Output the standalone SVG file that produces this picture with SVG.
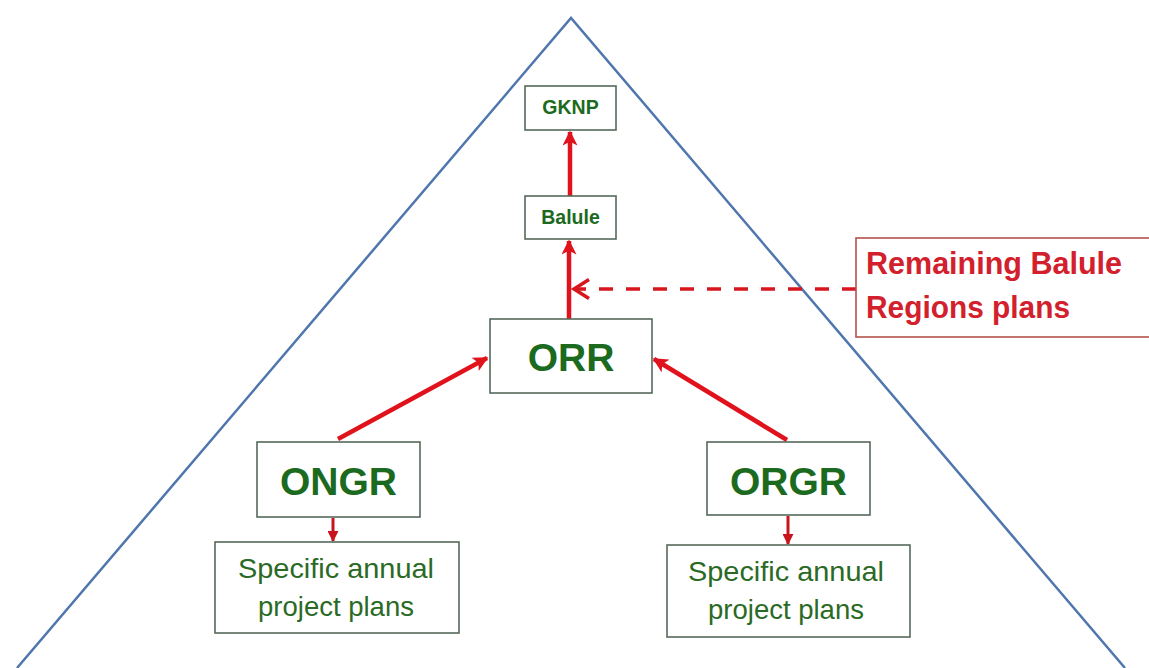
<svg xmlns="http://www.w3.org/2000/svg" width="1149" height="668" viewBox="0 0 1149 668">
<style>
.box{fill:#fff;stroke:#56695a;stroke-width:1.6}
.rbox{fill:#fff;stroke:#b3524c;stroke-width:1.6}
.big{font-family:"Liberation Sans",Arial,sans-serif;font-weight:bold;font-size:39px;fill:#1b6a20;text-anchor:middle}
.sm{font-family:"Liberation Sans",Arial,sans-serif;font-weight:bold;font-size:19.5px;fill:#1b6a20;text-anchor:middle}
.reg{font-family:"Liberation Sans",Arial,sans-serif;font-size:27.5px;fill:#2b6a25;text-anchor:middle}
.red{font-family:"Liberation Sans",Arial,sans-serif;font-weight:bold;font-size:31px;fill:#d2202c}
.arr{stroke:#e0121c;stroke-width:4.5;fill:none;marker-end:url(#ah)}
.arr2{stroke:#c8141c;stroke-width:3;fill:none;marker-end:url(#ah2)}
.dash{stroke:#d8161e;stroke-width:3.5;fill:none;stroke-dasharray:14 13}
</style>
<defs>
<marker id="ah" viewBox="0 0 10 10" refX="9" refY="5" markerUnits="userSpaceOnUse" markerWidth="16" markerHeight="15" orient="auto"><path d="M0,0 L10,5 L0,10 L2.5,5 Z" fill="#e0121c"/></marker>
<marker id="ah2" viewBox="0 0 10 10" refX="9" refY="5" markerUnits="userSpaceOnUse" markerWidth="11" markerHeight="11" orient="auto"><path d="M0,0 L10,5 L0,10 Z" fill="#c8141c"/></marker>
</defs>
<rect width="1149" height="668" fill="#fff"/>
<polyline points="17,668 571,18 1125,668" fill="none" stroke="#4f76ad" stroke-width="2.5"/>
<g id="connectors">
<line class="arr" x1="570" y1="196" x2="570" y2="132"/>
<line class="arr" x1="569" y1="319" x2="569" y2="241"/>
<line class="arr" x1="338" y1="439" x2="487" y2="358"/>
<line class="arr" x1="787" y1="440" x2="654" y2="359"/>
<line class="arr2" x1="333" y1="518" x2="333" y2="541"/>
<line class="arr2" x1="788" y1="516" x2="788" y2="544"/>
<line class="dash" x1="856" y1="289" x2="577" y2="289"/>
<path d="M589,279.5 L574,289 L589,298.5" fill="none" stroke="#d8161e" stroke-width="3.5"/>
</g>
<g id="gknp"><rect class="box" x="525" y="86" width="91" height="44"/><text class="sm" x="570.5" y="114">GKNP</text></g>
<g id="balule"><rect class="box" x="525" y="196" width="91" height="43"/><text class="sm" x="570.5" y="224">Balule</text></g>
<g id="orr"><rect class="box" x="490" y="319" width="162" height="74"/><text class="big" x="571" y="371">ORR</text></g>
<g id="ongr"><rect class="box" x="257" y="442" width="163" height="75"/><text class="big" x="338.5" y="495">ONGR</text></g>
<g id="orgr"><rect class="box" x="707" y="442" width="163" height="73"/><text class="big" x="788.5" y="495">ORGR</text></g>
<g id="plans-left"><rect class="box" x="215" y="542" width="244" height="91"/><text class="reg" x="336" y="578" textLength="196" lengthAdjust="spacingAndGlyphs">Specific annual</text><text class="reg" x="336" y="616">project plans</text></g>
<g id="plans-right"><rect class="box" x="667" y="545" width="243" height="92"/><text class="reg" x="786" y="581" textLength="196" lengthAdjust="spacingAndGlyphs">Specific annual</text><text class="reg" x="786" y="619">project plans</text></g>
<g id="remaining"><rect class="rbox" x="856" y="238" width="300" height="99"/><text class="red" x="866" y="274" textLength="256" lengthAdjust="spacingAndGlyphs">Remaining Balule</text><text class="red" x="866" y="318" textLength="204" lengthAdjust="spacingAndGlyphs">Regions plans</text></g>
</svg>
